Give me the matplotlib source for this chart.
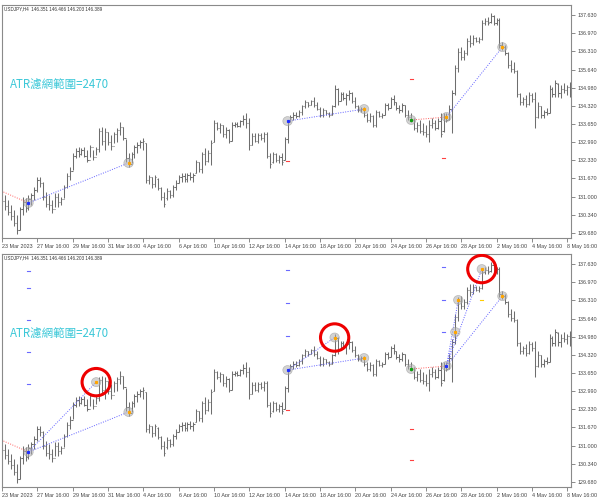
import numpy as np
import matplotlib.pyplot as plt
from matplotlib.collections import LineCollection
from matplotlib.patches import Ellipse

plt.rcParams['font.family'] = ['Liberation Sans', 'DejaVu Sans']

# USDJPY H4 bars
highs = [131.24, 131.06, 130.88, 130.70, 130.51, 130.33, 130.62, 130.99, 130.95, 131.06,
         131.13, 131.35, 131.72, 131.72, 131.54, 131.17, 131.06, 130.88, 131.13, 131.13,
         130.99, 131.43, 131.86, 132.08, 132.59, 132.78, 132.81, 132.78, 132.81, 132.70,
         132.89, 132.70, 132.81, 133.51, 133.54, 133.51, 133.36, 133.25, 133.36, 133.51,
         133.72, 133.54, 133.10, 132.59, 132.63, 132.89, 132.99, 133.07, 133.14, 132.96,
         131.79, 131.72, 131.79, 131.68, 131.35, 131.17, 131.31, 131.24, 131.43, 131.61,
         131.79, 131.86, 131.86, 131.86, 131.90, 131.86, 132.34, 132.27, 132.63, 132.78,
         132.70, 133.07, 133.80, 133.72, 133.69, 133.61, 133.54, 133.47, 133.72, 133.72,
         133.72, 133.80, 133.98, 134.05, 133.87, 133.32, 133.32, 133.32, 133.32, 133.36,
         133.36, 132.59, 132.63, 132.59, 132.52, 132.59, 133.18, 133.80, 133.98, 134.09,
         134.09, 134.16, 134.35, 134.53, 134.45, 134.53, 134.64, 134.45, 134.27, 134.24,
         134.16, 134.09, 134.35, 135.07, 134.97, 134.82, 134.82, 134.78, 134.89, 134.82,
         134.64, 134.35, 134.27, 134.27, 134.05, 134.05, 133.98, 134.16, 134.13, 134.05,
         134.42, 134.42, 134.64, 134.71, 134.45, 134.35, 134.42, 134.35, 134.16, 134.05,
         133.87, 133.72, 133.80, 133.69, 133.61, 133.80, 133.87, 133.80, 133.87, 134.05,
         134.05, 134.05, 134.35, 134.89, 135.81, 136.43, 136.46, 136.35, 136.79, 136.90,
         136.90, 136.83, 136.83, 137.45, 137.52, 137.56, 137.70, 137.63, 137.52, 137.52,
         136.64, 136.53, 136.28, 135.99, 135.91, 135.62, 134.78, 134.64, 134.71, 134.82,
         134.78, 134.82, 134.45, 134.31, 134.16, 134.24, 135.07, 135.00, 135.26, 135.15,
         135.07, 135.15, 135.07, 135.18]
lows = [130.70, 130.51, 130.33, 130.15, 129.93, 129.64, 129.78, 130.33, 130.44, 130.51,
        130.70, 130.88, 131.17, 131.35, 130.88, 130.62, 130.51, 130.40, 130.62, 130.62,
        130.70, 130.95, 131.31, 131.61, 131.97, 132.41, 132.45, 132.52, 132.45, 132.27,
        132.45, 132.34, 132.52, 132.63, 132.89, 132.70, 132.89, 132.70, 132.96, 132.99,
        133.25, 133.07, 132.27, 132.08, 132.23, 132.41, 132.59, 132.78, 132.70, 131.50,
        131.46, 131.31, 131.35, 131.24, 130.88, 130.62, 130.88, 130.95, 130.99, 131.24,
        131.50, 131.54, 131.54, 131.54, 131.61, 131.54, 131.86, 131.90, 131.86, 132.16,
        132.27, 132.16, 132.99, 133.43, 133.32, 133.18, 133.14, 132.96, 133.03, 133.54,
        133.54, 133.54, 133.61, 133.51, 132.70, 132.89, 132.99, 132.96, 133.07, 132.99,
        132.41, 132.05, 132.23, 132.27, 132.23, 132.16, 132.34, 132.96, 133.72, 133.80,
        133.87, 133.91, 133.98, 134.24, 134.27, 134.35, 134.27, 134.16, 133.91, 133.91,
        133.98, 133.91, 133.98, 134.27, 134.35, 134.49, 134.53, 134.35, 134.53, 134.42,
        134.24, 134.09, 134.09, 133.91, 133.72, 133.72, 133.54, 133.54, 133.91, 133.87,
        133.98, 134.16, 134.24, 134.35, 134.16, 134.05, 134.09, 133.91, 133.80, 133.72,
        133.43, 133.36, 133.32, 133.25, 133.18, 132.99, 133.51, 133.43, 133.47, 133.18,
        133.36, 133.72, 133.80, 133.32, 134.71, 135.55, 135.99, 135.99, 136.17, 136.46,
        136.53, 136.64, 136.61, 136.72, 137.27, 137.27, 137.34, 137.27, 137.27, 136.43,
        136.35, 136.17, 135.70, 135.55, 135.51, 134.64, 134.35, 134.35, 134.27, 134.35,
        134.45, 133.51, 133.87, 133.87, 133.87, 133.98, 134.05, 134.64, 134.64, 134.64,
        134.60, 134.78, 134.71, 134.64]
opens = [131.10, 130.85, 130.65, 130.45, 130.30, 130.05, 129.80, 130.55, 130.80, 130.60,
         130.90, 131.05, 131.25, 131.60, 131.50, 131.00, 130.75, 130.70, 130.55, 131.00,
         130.80, 130.90, 131.35, 131.75, 131.95, 132.50, 132.65, 132.55, 132.70, 132.50,
         132.35, 132.80, 132.45, 132.75, 133.40, 133.05, 133.35, 133.00, 132.85, 133.30,
         133.45, 133.55, 133.15, 132.40, 132.20, 132.55, 132.80, 132.90, 133.00, 132.95,
         131.60, 131.70, 131.45, 131.65, 131.30, 131.00, 130.95, 131.20, 131.05, 131.35,
         131.50, 131.70, 131.75, 131.65, 131.80, 131.70, 131.88, 132.25, 132.00, 132.55,
         132.30, 132.60, 133.00, 133.70, 133.50, 133.60, 133.30, 133.45, 133.05, 133.60,
         133.65, 133.58, 133.75, 133.85, 133.70, 132.90, 133.20, 133.05, 133.25, 133.15,
         133.30, 132.50, 132.25, 132.55, 132.35, 132.45, 132.35, 133.10, 133.75, 133.90,
         134.00, 133.95, 134.10, 134.30, 134.45, 134.35, 134.50, 134.35, 134.20, 134.00,
         134.15, 134.05, 134.00, 134.30, 134.95, 134.50, 134.75, 134.60, 134.70, 134.80,
         134.50, 134.30, 134.15, 134.20, 134.00, 133.80, 133.95, 133.60, 134.10, 133.95,
         134.00, 134.35, 134.25, 134.55, 134.45, 134.25, 134.15, 134.35, 134.00, 133.90,
         133.80, 133.50, 133.60, 133.40, 133.35, 133.30, 133.60, 133.70, 133.50, 133.75,
         133.38, 133.90, 133.82, 134.20, 134.80, 135.70, 136.30, 136.10, 136.25, 136.70,
         136.60, 136.80, 136.70, 136.75, 137.35, 137.40, 137.38, 137.60, 137.35, 137.45,
         136.55, 136.45, 136.25, 135.80, 135.65, 135.60, 134.75, 134.45, 134.55, 134.40,
         134.70, 134.55, 133.90, 134.30, 134.00, 134.10, 134.07, 134.95, 134.75, 135.12,
         134.80, 134.95, 134.90, 135.00]
closes = [130.85, 130.65, 130.45, 130.30, 130.05, 129.80, 130.55, 130.80, 130.60, 130.90,
          131.05, 131.25, 131.60, 131.50, 131.00, 130.75, 130.70, 130.55, 131.00, 130.80,
          130.90, 131.35, 131.75, 131.95, 132.50, 132.65, 132.55, 132.70, 132.50, 132.35,
          132.80, 132.45, 132.75, 133.40, 133.05, 133.35, 133.00, 132.85, 133.30, 133.45,
          133.55, 133.15, 132.40, 132.20, 132.55, 132.80, 132.90, 133.00, 133.05, 131.60,
          131.70, 131.45, 131.70, 131.30, 131.00, 130.75, 131.20, 131.05, 131.35, 131.50,
          131.70, 131.75, 131.65, 131.80, 131.70, 131.80, 132.25, 132.00, 132.55, 132.30,
          132.60, 132.95, 133.70, 133.50, 133.60, 133.30, 133.45, 133.05, 133.60, 133.65,
          133.58, 133.75, 133.85, 133.70, 132.90, 133.20, 133.05, 133.25, 133.15, 133.30,
          132.50, 132.20, 132.55, 132.35, 132.45, 132.25, 133.10, 133.75, 133.90, 134.00,
          133.95, 134.10, 134.30, 134.45, 134.35, 134.50, 134.35, 134.20, 134.00, 134.15,
          134.05, 134.00, 134.30, 134.95, 134.50, 134.75, 134.60, 134.70, 134.80, 134.50,
          134.30, 134.15, 134.20, 134.00, 133.80, 133.95, 133.60, 134.10, 133.95, 134.00,
          134.35, 134.25, 134.55, 134.45, 134.25, 134.15, 134.35, 134.00, 133.90, 133.80,
          133.50, 133.60, 133.40, 133.35, 133.30, 133.60, 133.70, 133.50, 133.75, 133.30,
          133.90, 133.80, 134.20, 134.80, 135.70, 136.30, 136.10, 136.25, 136.70, 136.60,
          136.80, 136.70, 136.75, 137.35, 137.40, 137.35, 137.60, 137.35, 137.45, 136.55,
          136.45, 136.25, 135.80, 135.65, 135.60, 134.75, 134.45, 134.55, 134.40, 134.70,
          134.55, 133.90, 134.30, 134.00, 134.10, 134.05, 134.95, 134.75, 135.15, 134.80,
          134.95, 134.90, 135.00, 134.85]

date_labels = ['23 Mar 2023', '27 Mar 16:00', '29 Mar 16:00', '31 Mar 16:00', '4 Apr 16:00',
               '6 Apr 16:00', '10 Apr 16:00', '12 Apr 16:00', '14 Apr 16:00', '18 Apr 16:00',
               '20 Apr 16:00', '24 Apr 16:00', '26 Apr 16:00', '28 Apr 16:00', '2 May 16:00',
               '4 May 16:00', '8 May 16:00']
date_pos = [0, 12, 24, 36, 48, 60, 72, 84, 96, 108, 120, 132, 144, 156, 168, 180, 192]
price_ticks = [137.630, 136.970, 136.310, 135.640, 134.980, 134.320, 133.650,
               132.990, 132.330, 131.670, 131.000, 130.340, 129.680]

header = 'USDJPY,H4  146.351 146.466 146.203 146.389'
atr_text = 'ATR濾網範圍=2470'

# zigzag pivots of the top panel: bar index, price, dot colour
top_piv_x = [9, 43, 97, 123, 139, 151, 170]
top_piv_y = [130.77, 132.23, 133.76, 134.20, 133.80, 133.91, 136.46]
top_piv_c = ['#2030ff', '#ffa500', '#2030ff', '#ffa500', '#10a010', '#ffa500', '#ffa500']
top_links = [(0, 1, 'blue'), (2, 3, 'blue'), (4, 5, 'red'), (5, 6, 'blue')]
# red level marks (bar index, price)
top_marks = [(97, 132.30), (139, 135.29), (150, 132.41)]

# bottom panel pivots
bot_piv_x = [9, 32, 43, 97, 113, 123, 139, 151, 154, 155, 163, 170]
bot_piv_y = [130.77, 133.32, 132.23, 133.76, 134.95, 134.20, 133.80, 133.91, 135.15, 136.32, 137.45, 136.46]
bot_piv_c = ['#2030ff', '#ffa500', '#ffa500', '#2030ff', '#ffa500', '#ffa500', '#10a010',
             '#2030ff', '#ffa500', '#ffa500', '#ffa500', '#ffa500']
bot_links = [(0, 1, 'blue'), (0, 2, 'blue'), (3, 4, 'blue'), (3, 5, 'blue'), (6, 7, 'red'),
             (7, 8, 'blue'), (7, 9, 'blue'), (7, 10, 'blue'), (7, 11, 'blue')]
bot_hl = [32, 113, 163]
bot_hl_y = [133.32, 134.95, 137.45]
# ATR level marks in the bottom panel: bar index, price, colour
bot_marks_x = [9, 9, 9, 9, 9, 97, 97, 97, 97, 139, 139, 150, 150, 150, 163]
bot_marks_y = [137.37, 136.75, 135.59, 134.42, 133.25, 137.41, 136.21, 135.00, 132.30,
               131.61, 130.48, 137.52, 136.32, 135.15, 136.32]
bot_marks_c = ['b', 'b', 'b', 'b', 'b', 'b', 'b', 'b', 'r', 'r', 'r', 'b', 'b', 'b', 'y']

W, H = 600, 497
fig = plt.figure(figsize=(W / 100, H / 100), dpi=100)
fig.patch.set_facecolor('white')

bar_col = '#6e6e6e'
mark_cols = {'b': '#6a6aff', 'r': '#ff4040', 'y': '#ffcc00'}


def draw_panel(ax):
    segs = []
    for i in range(len(highs)):
        segs.append([(i, lows[i]), (i, highs[i])])
        segs.append([(i - 0.4, opens[i]), (i, opens[i])])
        segs.append([(i, closes[i]), (i + 0.4, closes[i])])
    ax.add_collection(LineCollection(segs, colors=bar_col, linewidths=0.75))
    ax.set_xlim(0.5, 193.3)
    ax.set_ylim(129.49, 138.0)
    ax.yaxis.tick_right()
    ax.set_yticks(price_ticks)
    ax.set_yticklabels(['%.3f' % p for p in price_ticks])
    ax.set_xticks(date_pos)
    ax.set_xticklabels(date_labels)
    for lbl in ax.get_xticklabels():
        lbl.set_ha('left')
    ax.tick_params(axis='y', length=3, width=0.6, color='#777777', labelsize=3.9,
                   labelcolor='#444444', pad=1.5)
    ax.tick_params(axis='x', length=3, width=0.6, color='#777777', labelsize=3.9,
                   labelcolor='#444444', pad=1.0)
    for s in ax.spines.values():
        s.set_color('#8a8a8a')
        s.set_linewidth(0.8)


def draw_pivots(ax, px, py, pc, links):
    for a, b, c in links:
        col = '#6060ff' if c == 'blue' else '#ff6060'
        ax.plot([px[a], px[b]], [py[a], py[b]], linestyle=(0, (1, 1.5)), color=col, lw=0.7)
    for x, y, c in zip(px, py, pc):
        ax.add_patch(Ellipse((x, y), 3.2, 0.33, facecolor='#b0b0b0', edgecolor='#909090',
                             alpha=0.55, lw=0.5, zorder=4))
        ax.plot(x, y, 's', ms=1.3, color=c, zorder=5)


ax1 = fig.add_axes([2 / W, 1 - 238 / H, 569 / W, 233 / H])
draw_panel(ax1)
draw_pivots(ax1, top_piv_x, top_piv_y, top_piv_c, top_links)
ax1.plot([0.5, top_piv_x[0]], [131.17, top_piv_y[0]], linestyle=(0, (1, 1.5)), color='#ff6060', lw=0.7)
for mx, my in top_marks:
    ax1.plot([mx - 0.5, mx + 0.5], [my, my], color='#ff4040', lw=0.8)

ax2 = fig.add_axes([2 / W, 1 - 487 / H, 569 / W, 233 / H])
draw_panel(ax2)
draw_pivots(ax2, bot_piv_x, bot_piv_y, bot_piv_c, bot_links)
ax2.plot([0.5, bot_piv_x[0]], [131.17, bot_piv_y[0]], linestyle=(0, (1, 1.5)), color='#ff6060', lw=0.7)
for mx, my, mc in zip(bot_marks_x, bot_marks_y, bot_marks_c):
    ax2.plot([mx - 0.5, mx + 0.5], [my, my], color=mark_cols[mc], lw=0.8)
for hx, hy in zip(bot_hl, bot_hl_y):
    ax2.add_patch(Ellipse((hx, hy), 9.6, 1.0, facecolor='none', edgecolor='#ee0000', lw=2.2, zorder=6))

for ax in (ax1, ax2):
    ax.text(0.004, 0.995, header, transform=ax.transAxes, fontsize=3.3, color='#333333',
            ha='left', va='top')
    ax.text(0.014, 0.66, atr_text, transform=ax.transAxes, fontsize=8.3, color='#3cc8d8',
            family=['Noto Sans CJK TC', 'DejaVu Sans'], ha='left', va='center')

fig.savefig('out.png', dpi=100)
